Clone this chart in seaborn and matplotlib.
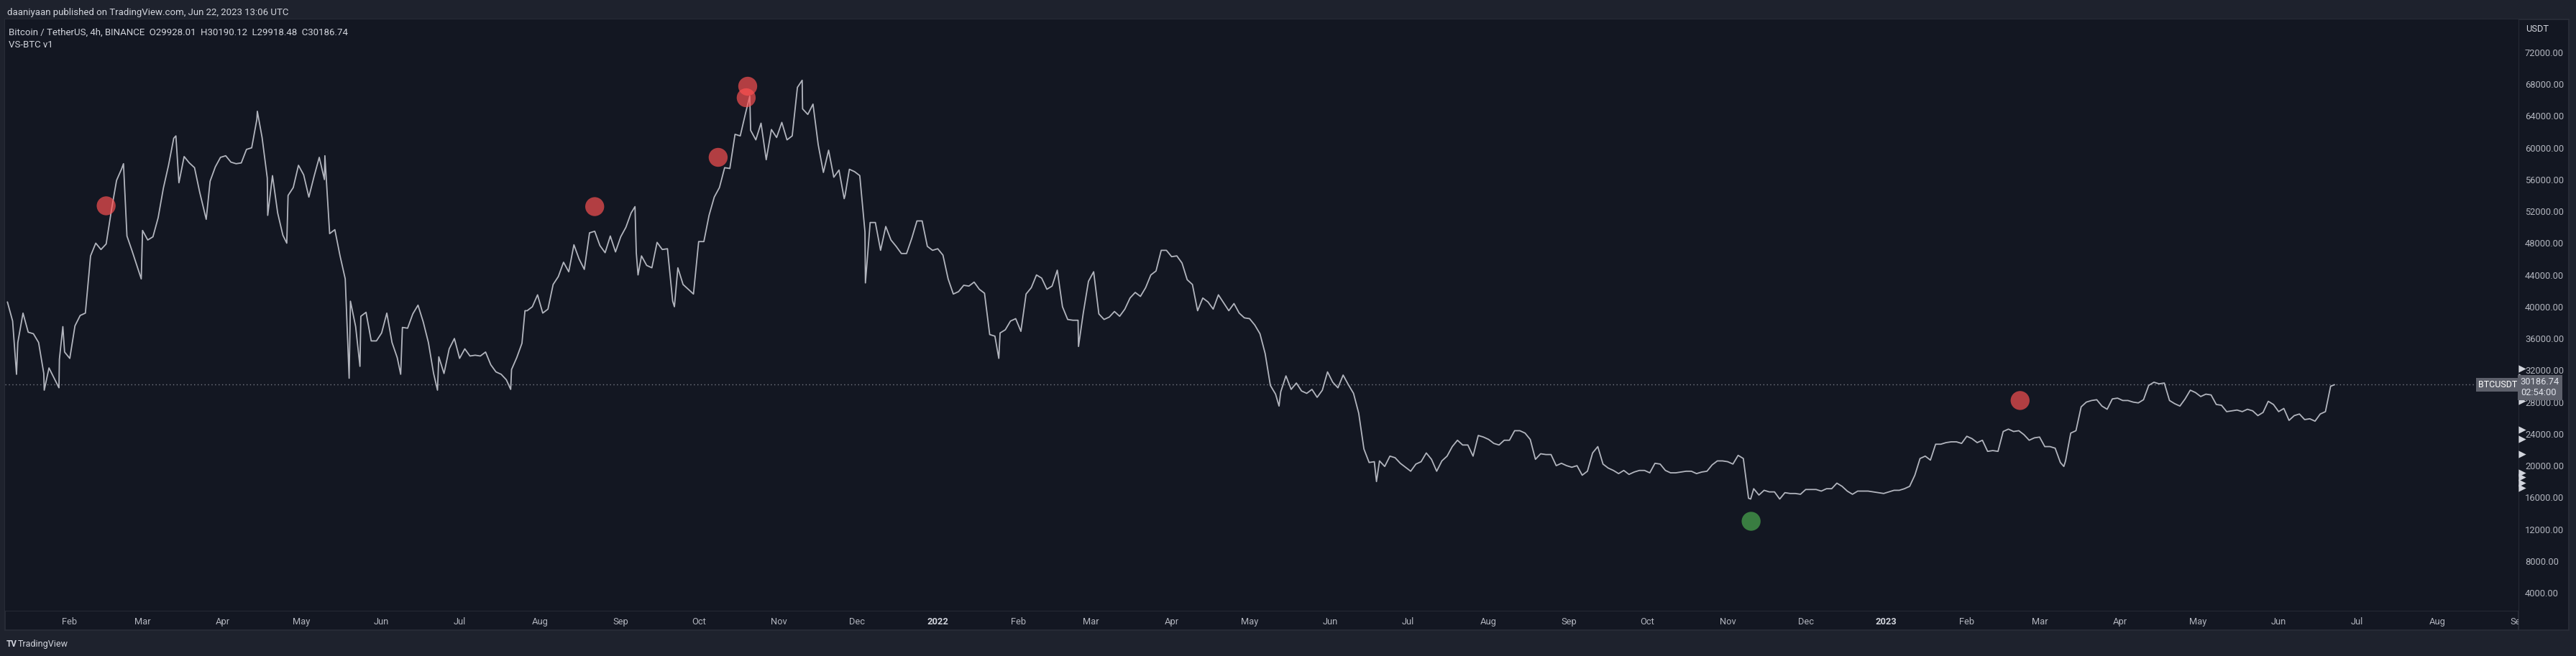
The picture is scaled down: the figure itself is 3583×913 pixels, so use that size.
import numpy as np
import pandas as pd
import matplotlib
matplotlib.use("Agg")
import matplotlib.pyplot as plt
from matplotlib.transforms import Bbox, TransformedBbox, blended_transform_factory
from matplotlib.patches import Rectangle
from matplotlib.lines import Line2D
import seaborn as sns

# ---------------- data ----------------
series_start = "2021-01-08"
step_days = 2
# BTC/USDT close, thousands of USD, every 2 days
closes_k = [
    # 2021 Jan
    40.6, 38.2, 35.5, 39.2, 36.8, 36.6, 35.5, 31.6, 32.3, 31.0, 33.4, 34.3,
    # Feb
    33.5, 37.6, 38.9, 39.2, 46.4, 48.0, 47.2, 47.9, 52.1, 55.9, 57.4, 48.9, 47.0, 45.0,
    # Mar
    49.6, 48.4, 48.8, 51.2, 54.9, 57.8, 61.2, 55.6, 58.9, 58.1, 57.5, 54.4, 51.7, 55.8, 57.6, 58.8,
    # Apr
    59.0, 58.2, 58.0, 58.1, 59.8, 60.0, 63.6, 61.3, 56.2, 56.5, 51.8, 49.0, 54.0, 55.0, 57.8,
    # May
    56.6, 53.8, 56.4, 58.8, 56.0, 49.2, 49.7, 46.4, 43.5, 40.7, 37.5, 38.8, 39.3, 35.7, 35.7,
    # Jun
    36.7, 39.2, 35.5, 33.6, 37.4, 37.3, 39.1, 40.2, 38.1, 35.5, 31.6, 33.7, 31.6, 34.7, 36.0,
    # Jul
    33.5, 34.7, 33.8, 33.9, 33.8, 34.3, 32.7, 31.8, 31.5, 30.8, 32.1, 33.6, 35.4, 39.5, 40.0, 41.5,
    # Aug
    39.2, 39.7, 42.8, 43.8, 45.6, 44.4, 47.8, 46.0, 44.7, 49.3, 49.5, 47.7, 46.8, 48.9, 46.9,
    # Sep
    48.8, 50.0, 51.8, 46.8, 46.4, 45.2, 44.9, 48.1, 47.2, 47.3, 40.7, 44.9, 42.8, 42.2, 41.6,
    # Oct
    48.2, 48.2, 51.5, 53.8, 55.0, 57.5, 57.4, 61.7, 61.5, 64.3, 62.2, 61.0, 63.1, 58.5, 62.3, 61.3,
    # Nov
    63.2, 61.0, 61.5, 67.6, 64.9, 64.2, 65.5, 60.4, 56.9, 59.7, 56.3, 57.2, 53.6, 57.3, 57.0,
    # Dec
    56.5, 49.4, 50.6, 50.6, 47.1, 50.1, 48.4, 47.6, 46.7, 46.7, 48.6, 50.8, 50.8, 47.6, 47.1,
    # 2022 Jan
    47.3, 46.5, 43.5, 41.6, 41.9, 42.7, 42.6, 43.1, 42.2, 41.7, 36.5, 36.3, 36.7, 37.1, 38.2, 38.5,
    # Feb
    36.9, 41.6, 42.4, 44.0, 43.6, 42.2, 42.6, 44.6, 40.0, 38.4, 38.3, 38.3, 39.2, 43.2,
    # Mar
    44.4, 39.1, 38.4, 38.7, 39.4, 38.8, 39.7, 41.1, 41.8, 41.3, 42.4, 44.0, 44.5, 47.1, 47.1,
    # Apr
    46.3, 46.4, 45.5, 43.4, 42.8, 39.5, 41.1, 40.6, 39.7, 41.5, 40.5, 39.5, 40.4, 39.2, 38.6,
    # May
    38.5, 37.7, 36.6, 34.1, 30.1, 29.0, 29.3, 31.3, 29.6, 30.4, 29.4, 29.1, 29.6, 28.6, 29.5, 31.8,
    # Jun
    30.5, 29.8, 31.4, 30.2, 29.1, 26.6, 22.1, 20.4, 20.5, 20.6, 19.9, 21.2, 21.0, 20.3, 19.8,
    # Jul
    19.3, 20.2, 20.5, 21.6, 20.8, 19.3, 20.6, 21.2, 22.4, 23.2, 22.6, 22.6, 21.2, 23.8, 23.6,
    # Aug
    23.3, 22.8, 22.6, 23.2, 23.2, 24.4, 24.4, 24.1, 23.3, 20.8, 21.5, 21.4, 21.4, 20.0, 20.3, 20.0,
    # Sep
    19.8, 20.0, 18.8, 19.3, 21.6, 22.4, 20.2, 19.7, 19.4, 19.0, 19.4, 18.9, 19.2, 19.4, 19.4,
    # Oct
    19.1, 20.3, 20.2, 19.4, 19.1, 19.1, 19.2, 19.3, 19.3, 19.0, 19.2, 19.3, 20.1, 20.6, 20.6,
    # Nov
    20.5, 20.2, 21.3, 20.9, 15.9, 17.1, 16.3, 16.9, 16.7, 16.7, 15.8, 16.6, 16.5, 16.5, 16.4,
    # Dec
    17.0, 17.0, 17.0, 16.8, 17.1, 17.1, 17.8, 17.4, 16.8, 16.4, 16.8, 16.8, 16.8, 16.7, 16.6, 16.5,
    # 2023 Jan
    16.7, 16.9, 16.9, 17.1, 17.4, 18.8, 20.9, 21.2, 20.7, 22.7, 22.7, 22.9, 23.0, 23.0, 22.8,
    # Feb
    23.7, 23.4, 22.9, 23.2, 21.8, 21.9, 21.8, 24.3, 24.6, 24.3, 24.4, 23.9, 23.2, 23.5,
    # Mar
    23.6, 22.4, 22.4, 22.2, 20.4, 20.6, 24.1, 24.4, 27.4, 28.0, 28.2, 28.3, 27.5, 27.1, 28.4, 28.5,
    # Apr
    28.2, 28.2, 28.0, 27.9, 28.3, 30.1, 30.5, 30.3, 30.4, 28.2, 27.8, 27.5, 28.4, 29.5, 29.2,
    # May
    28.7, 29.0, 28.9, 27.7, 27.6, 26.8, 26.9, 27.0, 26.8, 27.1, 26.9, 26.3, 26.7, 28.1, 27.7,
    # Jun
    26.8, 27.2, 25.7, 26.3, 26.5, 25.8, 25.9, 25.6, 26.5, 26.8, 30.0,
]
# intraday 4h extremes visible as spikes in the line (time, thousands USD)
spike_times = [
    "2021-01-11 12:00", "2021-01-22 04:00", "2021-01-27 20:00", "2021-01-29 08:00",
    "2021-02-21 16:00", "2021-02-28 12:00", "2021-03-13 20:00", "2021-03-25 12:00",
    "2021-04-14 04:00", "2021-04-18 04:00", "2021-04-25 12:00", "2021-05-10 04:00",
    "2021-05-19 12:00", "2021-05-23 16:00", "2021-06-08 08:00", "2021-06-22 12:00",
    "2021-07-20 16:00", "2021-07-26 04:00", "2021-09-06 12:00", "2021-09-07 16:00",
    "2021-09-21 16:00", "2021-10-20 16:00", "2021-11-09 20:00", "2021-11-26 08:00",
    "2021-12-04 04:00", "2022-01-24 12:00", "2022-02-24 04:00", "2022-05-12 08:00",
    "2022-06-18 20:00", "2022-11-09 20:00", "2023-03-10 08:00",
]
spike_k = [
    31.5, 29.5, 29.8, 37.5,
    58.0, 43.5, 61.5, 51.0,
    64.6, 51.5, 48.0, 59.0,
    31.0, 32.5, 31.5, 29.5,
    29.6, 39.5, 52.6, 44.0,
    40.0, 66.5, 68.5, 54.0,
    43.0, 33.5, 35.0, 27.5,
    18.0, 15.8, 19.9,
]
last_time = "2023-06-22 12:00"
last_close = 30186.74

signal_times = ["2021-02-15 00:00", "2021-08-22 00:00", "2021-10-08 12:00",
                "2021-10-19 21:00", "2021-10-19 07:00", "2023-02-21 12:00",
                "2022-11-10 00:00"]
signal_prices = [52700, 52600, 58800, 67750, 66300, 28200, 13000]
signal_kind = ["sell", "sell", "sell", "sell", "sell", "sell", "buy"]

axis_mark_prices = [32240, 31130, 28960, 28150, 24530, 23350, 21480, 19100, 18600, 17870, 17200]

price_ticks = list(range(4000, 72001, 4000))
month_starts = pd.date_range("2021-02-01", "2023-09-01", freq="MS")

header_text = "daaniyaan published on TradingView.com, Jun 22, 2023 13:06 UTC"
legend_line1 = "Bitcoin / TetherUS, 4h, BINANCE  O29928.01  H30190.12  L29918.48  C30186.74"
legend_line2 = "VS-BTC v1"

# ---------------- frame ----------------
W, H = 3583, 913
OUTER = "#1e222d"
PANEL = "#131722"
BORDER = "#2a2e39"
TXT = "#d1d4dc"
TICK = "#b2b5be"

sns.set_theme(style="dark")
plt.rcParams["font.family"] = ["Roboto", "DejaVu Sans"]

fig = plt.figure(figsize=(W / 100, H / 100), dpi=100, facecolor=OUTER)

def fx(px):
    return px / W

def fy(py):
    return 1 - py / H

# panel (behind the axes)
fig.patches.append(Rectangle((fx(7), fy(877)), fx(3573) - fx(7), fy(27) - fy(877),
                             transform=fig.transFigure, facecolor=PANEL,
                             edgecolor=BORDER, lw=1.2, zorder=-5))

ax = fig.add_axes([fx(7), fy(850), fx(3503) - fx(7), fy(27) - fy(850)])
ax.set_facecolor(PANEL)
ax.set_zorder(1)
for s in ax.spines.values():
    s.set_visible(False)

# separators
fig.lines.append(Line2D([fx(3503), fx(3503)], [fy(27), fy(877)], transform=fig.transFigure,
                        color=BORDER, lw=1.2, zorder=0))
fig.lines.append(Line2D([fx(7), fx(3503)], [fy(850), fy(850)], transform=fig.transFigure,
                        color=BORDER, lw=1.2, zorder=0))

# ---------------- price line ----------------
dates = pd.date_range(series_start, periods=len(closes_k), freq=f"{step_days}D")
df = pd.DataFrame({"time": list(dates) + list(pd.to_datetime(spike_times)) + [pd.Timestamp(last_time)],
                   "close": [v * 1000 for v in closes_k] + [v * 1000 for v in spike_k] + [last_close]})
df = df.sort_values("time").reset_index(drop=True)
sns.lineplot(data=df, x="time", y="close", ax=ax, color="#b2b5be", lw=1.3,
             estimator=None, sort=False, legend=False)

# last price dotted line
ax.axhline(last_close, color="#787b86", lw=1.0, ls=(0, (1, 2.5)), zorder=1)

# signals
sig = pd.DataFrame({"time": pd.to_datetime(signal_times), "price": signal_prices,
                    "kind": signal_kind})
sns.scatterplot(data=sig, x="time", y="price", hue="kind",
                palette={"sell": "#ff5252", "buy": "#4caf50"}, alpha=0.68,
                s=360, linewidth=0, ax=ax, legend=False, zorder=5)

# ---------------- axes ----------------
ax.set_xlim(pd.Timestamp("2021-01-07 02:00"), pd.Timestamp("2023-09-01 07:00"))
ax.set_ylim(1744, 76160)
ax.set_xlabel("")
ax.set_ylabel("")
ax.grid(False)

ax.yaxis.tick_right()
ax.set_yticks(price_ticks)
ax.set_yticklabels([f"{v:.2f}" for v in price_ticks])
ax.tick_params(axis="y", length=0, pad=6.5, labelsize=9.3, labelcolor=TICK)

labels = [d.strftime("%Y") if d.month == 1 else d.strftime("%b") for d in month_starts]
ax.set_xticks(month_starts)
ax.set_xticklabels(labels)
ax.tick_params(axis="x", length=0, pad=6.5, labelsize=9.3, labelcolor=TICK)
clip = TransformedBbox(Bbox([[fx(7), 0], [fx(3503), 1]]), fig.transFigure)
for lab, d in zip(ax.get_xticklabels(), month_starts):
    lab.set_clip_box(clip)
    lab.set_clip_on(True)
    if d.month == 1:
        lab.set_color(TXT)
        lab.set_fontweight("bold")

# axis markers (triangles on price scale)
bt = blended_transform_factory(ax.transAxes, ax.transData)
ax.scatter([1.0015] * len(axis_mark_prices), axis_mark_prices, marker=">", s=55,
           color="#d1d4dc", linewidths=0, transform=bt, clip_on=False, zorder=6)

# last price labels
ax.text(0.9995, last_close, "BTCUSDT", transform=bt, ha="right", va="center",
        fontsize=9, color="#ffffff", zorder=7,
        bbox=dict(boxstyle="square,pad=0.25", fc="#5d606b", ec="none"))
ax.text(1.0008, last_close + 900, "30186.74\n02:54:00", transform=bt, ha="left", va="top",
        fontsize=9.3, color="#e0e3eb", linespacing=1.15, zorder=7,
        bbox=dict(boxstyle="square,pad=0.3", fc="#5d606b", ec="none"))

# ---------------- texts ----------------
fig.text(fx(10), fy(17), header_text, ha="left", va="center", fontsize=9.5, color=TXT)
fig.text(fx(12), fy(45), legend_line1, ha="left", va="center", fontsize=9.5, color=TXT, zorder=3)
fig.text(fx(12), fy(62), legend_line2, ha="left", va="center", fontsize=9.5, color=TXT, zorder=3)
fig.text(fx(3513), fy(40), "USDT", ha="left", va="center", fontsize=9.3, color=TXT, zorder=3)
fig.text(fx(9), fy(896), "TV", ha="left", va="center", fontsize=8.5, color=TXT,
         fontweight="bold")
fig.text(fx(25), fy(896), "TradingView", ha="left", va="center", fontsize=9, color=TXT)

fig.savefig("out.png", dpi=100, facecolor=OUTER)
